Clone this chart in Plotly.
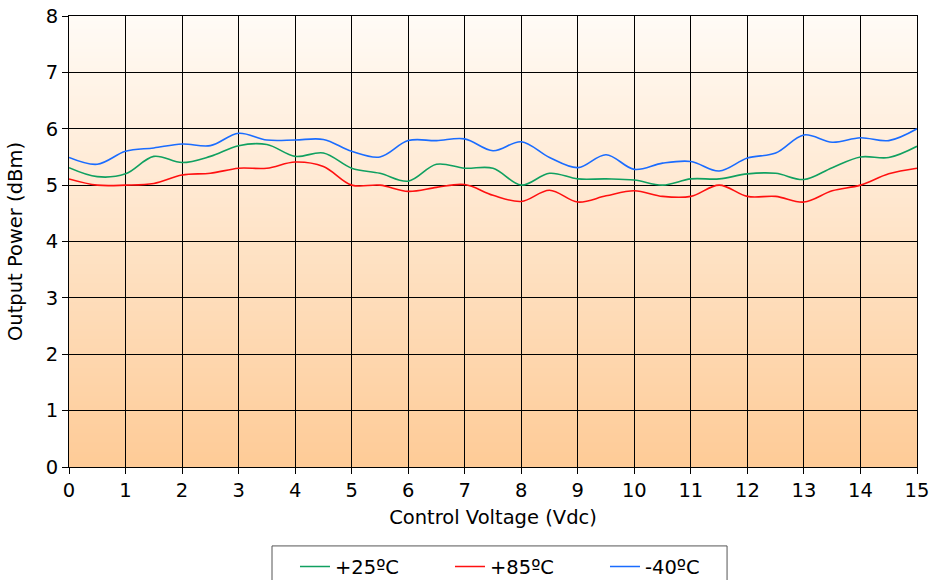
import base64, struct, zlib
import plotly.graph_objects as go

voltage = [0, 0.5, 1, 1.5, 2, 2.5, 3, 3.5, 4, 4.5, 5, 5.5, 6, 6.5, 7, 7.5,
           8, 8.5, 9, 9.5, 10, 10.5, 11, 11.5, 12, 12.5, 13, 13.5, 14, 14.5, 15]

p_25 = [5.31, 5.15, 5.20, 5.51, 5.40, 5.51, 5.70, 5.72, 5.51, 5.57, 5.30,
        5.21, 5.07, 5.37, 5.30, 5.30, 5.00, 5.21, 5.11, 5.11, 5.09, 5.00,
        5.11, 5.11, 5.20, 5.21, 5.10, 5.31, 5.50, 5.49, 5.69]

p_85 = [5.11, 5.00, 5.00, 5.03, 5.18, 5.21, 5.30, 5.30, 5.41, 5.33, 5.00,
        5.00, 4.89, 4.96, 5.01, 4.82, 4.71, 4.91, 4.70, 4.81, 4.90, 4.80,
        4.80, 5.00, 4.80, 4.80, 4.70, 4.90, 5.00, 5.20, 5.30]

p_m40 = [5.49, 5.37, 5.60, 5.66, 5.73, 5.70, 5.92, 5.80, 5.80, 5.81, 5.60,
         5.50, 5.79, 5.79, 5.82, 5.61, 5.77, 5.49, 5.31, 5.54, 5.28, 5.39,
         5.42, 5.25, 5.48, 5.57, 5.89, 5.76, 5.84, 5.79, 6.00]

x_ticks = list(range(0, 16))
y_ticks = list(range(0, 9))

series = [("+25ºC", p_25, "#10a060"), ("+85ºC", p_85, "#ff1010"), ("-40ºC", p_m40, "#1a6cff")]


def gradient_png(top, bottom, h=256):
    rows = b""
    for i in range(h):
        t = i / (h - 1)
        c = [round(top[k] + (bottom[k] - top[k]) * t) for k in range(3)]
        rows += b"\x00" + bytes(c)
    def chunk(tag, data):
        return struct.pack(">I", len(data)) + tag + data + struct.pack(">I", zlib.crc32(tag + data) & 0xffffffff)
    png = b"\x89PNG\r\n\x1a\n"
    png += chunk(b"IHDR", struct.pack(">IIBBBBB", 1, h, 8, 2, 0, 0, 0))
    png += chunk(b"IDAT", zlib.compress(rows))
    png += chunk(b"IEND", b"")
    return "data:image/png;base64," + base64.b64encode(png).decode()


fig = go.Figure()
for name, vals, col in series:
    fig.add_trace(go.Scatter(x=voltage, y=vals, name=name, mode="lines",
                             line=dict(color=col, width=1.6, shape="spline", smoothing=1.0)))

fig.add_layout_image(dict(source=gradient_png((255, 251, 246), (254, 203, 151)),
                          xref="paper", yref="paper", x=0, y=1, sizex=1, sizey=1,
                          sizing="stretch", xanchor="left", yanchor="top", layer="below"))

# legend frame
fig.add_shape(type="rect", xref="paper", yref="paper", x0=0.2394, x1=0.776,
              y0=-0.175, y1=-0.32, line=dict(color="#555", width=1), fillcolor="white",
              layer="below")

font = dict(family="DejaVu Sans, Verdana, sans-serif", size=19.5, color="#000")
axis_common = dict(showgrid=True, gridcolor="#000", gridwidth=1, showline=True,
                   linecolor="#000", linewidth=1, mirror=True, ticks="outside",
                   ticklen=6, tickcolor="#000", zeroline=False, tickfont=font,
                   automargin=False)

fig.update_layout(
    width=935, height=580,
    margin=dict(l=69, r=18, t=16, b=113, autoexpand=False),
    paper_bgcolor="white", plot_bgcolor="white",
    font=font,
    xaxis=dict(range=[0, 15], tickvals=x_ticks, title=dict(text="Control Voltage (Vdc)", font=font, standoff=8),
               **axis_common),
    yaxis=dict(range=[0, 8], tickvals=y_ticks, title=dict(text="Output Power (dBm)", font=font, standoff=17),
               **axis_common),
    legend=dict(orientation="h", x=0.2665, xanchor="left", y=-0.178, yanchor="top",
                borderwidth=0, bgcolor="rgba(0,0,0,0)", font=font,
                entrywidth=110, itemwidth=30),
    showlegend=True,
)

fig.write_html("out.html", config={"displayModeBar": False},
               post_script="document.body.style.margin='0';document.body.style.overflow='hidden';")
